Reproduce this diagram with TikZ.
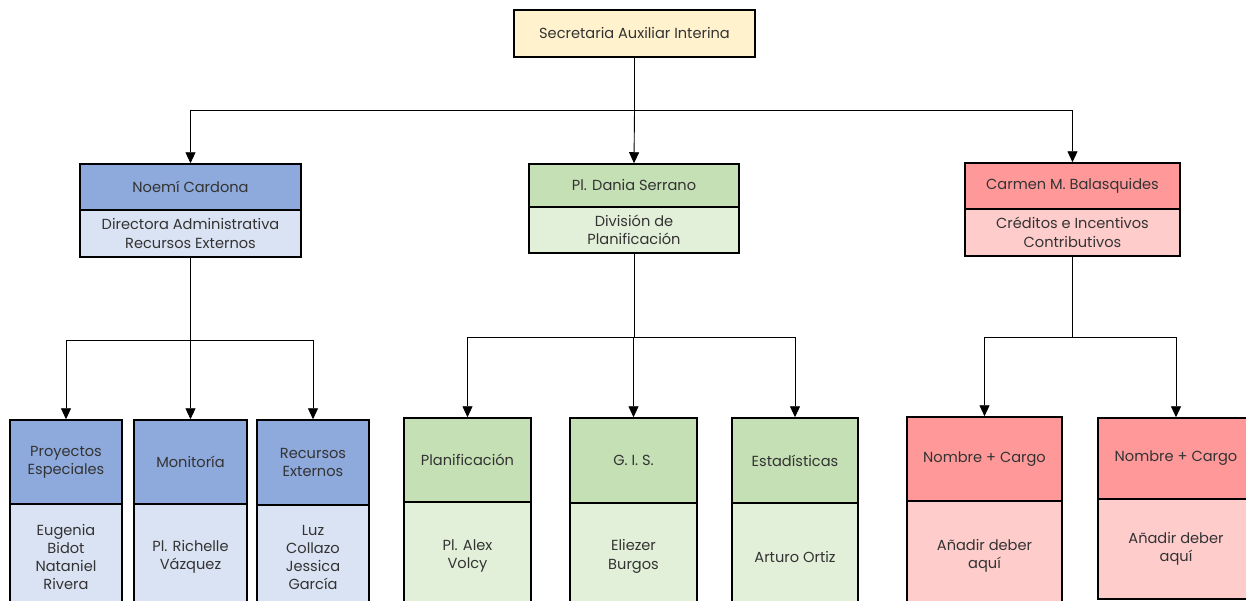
\documentclass[tikz,border=0pt]{standalone}
\usepackage{fontspec}
\setmainfont{Poppins}
\usetikzlibrary{arrows.meta}
\definecolor{txt}{HTML}{333333}
\definecolor{yel}{HTML}{FFF2CC}
\definecolor{bluD}{HTML}{8EA9DB}
\definecolor{bluL}{HTML}{DAE3F3}
\definecolor{grnD}{HTML}{C5E0B4}
\definecolor{grnL}{HTML}{E2F0D9}
\definecolor{redD}{HTML}{FF9999}
\definecolor{redL}{HTML}{FFCCCC}
\tikzset{
  box/.style={draw=black, line width=1.5pt, rectangle, inner sep=0pt, align=center,
    text=txt, font=\fontsize{14.6}{18.3}\selectfont},
  conn/.style={draw=black, line width=0.9pt},
  arr/.style={conn, -{Triangle[width=10pt,length=11pt]}},
}
\begin{document}
\begin{tikzpicture}[x=1pt,y=-1pt]
\clip (0,0) rectangle (1246,600);
\useasboundingbox (0,0) rectangle (1246,600);
\fill[white] (0,0) rectangle (1246,600);
% top
\node[box, fill=yel, minimum width=241pt, minimum height=47pt] (top) at (634.5,33.5) {Secretaria Auxiliar Interina};
% level 2
\node[box, fill=bluD, minimum width=221pt, minimum height=46pt] (noemi) at (190.5,187) {Noemí Cardona};
\node[box, fill=bluL, minimum width=221pt, minimum height=47pt] (noemiB) at (190.5,233.5) {Directora Administrativa\\Recursos Externos};
\node[box, fill=grnD, minimum width=210pt, minimum height=43pt] (dania) at (634,185.5) {Pl. Dania Serrano};
\node[box, fill=grnL, minimum width=210pt, minimum height=46pt] (daniaB) at (634,230) {División de\\Planificación};
\node[box, fill=redD, minimum width=215pt, minimum height=46pt] (carmen) at (1072.5,186) {Carmen M. Balasquides};
\node[box, fill=redL, minimum width=215pt, minimum height=47pt] (carmenB) at (1072.5,232.5) {Créditos e Incentivos\\Contributivos};
% level 3 left
\node[box, fill=bluD, minimum width=112pt, minimum height=84pt] (pe) at (66,462) {Proyectos\\Especiales};
\node[box, fill=bluL, minimum width=112pt, minimum height=106pt] (peB) at (66,557) {Eugenia\\Bidot\\Nataniel\\Rivera};
\node[box, fill=bluD, minimum width=113pt, minimum height=84pt] (mo) at (190.5,462) {Monitoría};
\node[box, fill=bluL, minimum width=113pt, minimum height=106pt] (moB) at (190.5,557) {Pl. Richelle\\Vázquez};
\node[box, fill=bluD, minimum width=112pt, minimum height=85pt] (re) at (313,462.5) {Recursos\\Externos};
\node[box, fill=bluL, minimum width=112pt, minimum height=105pt] (reB) at (313,557.5) {Luz\\Collazo\\Jessica\\García};
% level 3 center
\node[box, fill=grnD, minimum width=127pt, minimum height=84pt] (pl) at (467.5,460) {Planificación};
\node[box, fill=grnL, minimum width=127pt, minimum height=108pt] (plB) at (467.5,556) {Pl. Alex\\Volcy};
\node[box, fill=grnD, minimum width=127pt, minimum height=85pt] (gis) at (633.5,460.5) {G. I. S.};
\node[box, fill=grnL, minimum width=127pt, minimum height=107pt] (gisB) at (633.5,556.5) {Eliezer\\Burgos};
\node[box, fill=grnD, minimum width=126pt, minimum height=85pt] (es) at (795,460.5) {Estadísticas};
\node[box, fill=grnL, minimum width=126pt, minimum height=107pt] (esB) at (795,556.5) {Arturo Ortiz};
% level 3 right
\node[box, fill=redD, minimum width=155pt, minimum height=84pt] (n1) at (984.5,459) {Nombre + Cargo};
\node[box, fill=redL, minimum width=155pt, minimum height=110pt] (n1B) at (984.5,556) {Añadir deber\\aquí};
\node[box, fill=redD, minimum width=156pt, minimum height=81pt] (n2) at (1176,458.5) {Nombre + Cargo};
\node[box, fill=redL, minimum width=156pt, minimum height=100pt] (n2B) at (1176,549) {Añadir deber\\aquí};
% connectors
\coordinate (j1) at (634.5,110);
\draw[conn] (top.south) -- (j1);
\draw[arr] (j1) -| (noemi.north);
\draw[arr] (j1) -- (dania.north);
\draw[arr] (j1) -| (carmen.north);
\coordinate (j2) at (190.5,340);
\draw[conn] (noemiB.south) -- (j2);
\draw[arr] (j2) -| (pe.north);
\draw[arr] (j2) -- (mo.north);
\draw[arr] (j2) -| (re.north);
\coordinate (j3) at (634,337);
\draw[conn] (daniaB.south) -- (j3);
\draw[arr] (j3) -| (pl.north);
\draw[arr] (j3) -| (gis.north);
\draw[arr] (j3) -| (es.north);
\coordinate (j4) at (1072.5,337);
\draw[conn] (carmenB.south) -- (j4);
\draw[arr] (j4) -| (n1.north);
\draw[arr] (j4) -| (n2.north);
\end{tikzpicture}
\end{document}
